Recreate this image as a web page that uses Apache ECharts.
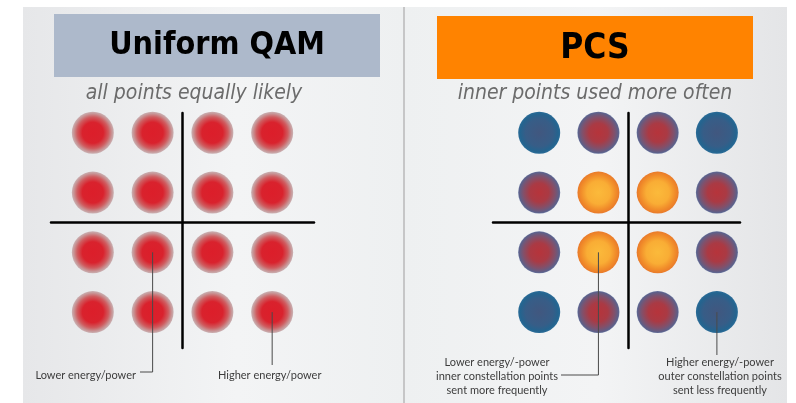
<!DOCTYPE html>
<html>
<head>
<meta charset="utf-8">
<script src="https://cdn.jsdelivr.net/npm/echarts@6/dist/echarts.min.js"></script>
<style>
  html, body { margin: 0; background: #fff; }
  #chart { width: 796px; height: 403px; }
</style>
</head>
<body>
<div id="chart"></div>
<script>
// 16-QAM amplitude levels on I and Q
const levels = [-1.5, -0.5, 0.5, 1.5];
const titles = ['Uniform QAM', 'PCS'];
const subtitles = ['all points equally likely', 'inner points used more often'];

// uniform QAM: every point the same
const uniformPoints = levels.flatMap(q => levels.map(i => [i, q]));

// PCS: points grouped by how often they are sent
const pcsCorner = [[-1.5, 1.5], [1.5, 1.5], [-1.5, -1.5], [1.5, -1.5]];
const pcsEdge = [[-0.5, 1.5], [0.5, 1.5], [-1.5, 0.5], [1.5, 0.5],
                 [-1.5, -0.5], [1.5, -0.5], [-0.5, -1.5], [0.5, -1.5]];
const pcsInner = [[-0.5, 0.5], [0.5, 0.5], [-0.5, -0.5], [0.5, -0.5]];

const uniformNotes = ['Lower energy/power', 'Higher energy/power'];
const pcsNotes = [
  'Lower energy/-power\ninner constellation points\nsent more frequently',
  'Higher energy/-power\nouter constellation points\nsent less frequently'
];

const radial = stops => ({
  type: 'radial', x: 0.5, y: 0.5, r: 0.5,
  colorStops: stops.map(s => ({ offset: s[0], color: s[1] }))
});

const redDot = radial([[0, '#dc1e2a'], [0.5, '#d9222d'], [0.75, '#cf5c5f'], [0.92, '#c79a9b'], [1, '#cbb0b2']]);
const blueDot = radial([[0, '#41577f'], [0.65, '#375d87'], [0.9, '#24648f'], [1, '#2a6c98']]);
const mixDot = radial([[0, '#b6343b'], [0.45, '#aa3a44'], [0.75, '#82506a'], [0.95, '#5d6089'], [1, '#6a76a0']]);
const orangeDot = radial([[0, '#fbba3b'], [0.55, '#f9ad35'], [0.82, '#f18d2a'], [1, '#e97a2a']]);

const axisStyle = { color: '#000', width: 2.5 };
const makeAxis = (idx, min, max) => ({
  type: 'value', gridIndex: idx, min: min, max: max,
  axisLine: { onZero: true, lineStyle: axisStyle },
  axisTick: { show: false }, axisLabel: { show: false }, splitLine: { show: false }
});

const dots = (name, idx, data, color) => ({
  name: name, type: 'scatter', xAxisIndex: idx, yAxisIndex: idx,
  data: data, symbolSize: 42, silent: true,
  itemStyle: { color: color, opacity: 1 },
  emphasis: { disabled: true }
});

const chart = echarts.init(document.getElementById('chart'));

chart.setOption({
  animation: false,
  backgroundColor: '#fff',
  grid: [
    { left: 51, top: 113, width: 263, height: 235 },
    { left: 493, top: 113, width: 247, height: 235 }
  ],
  xAxis: [makeAxis(0, -2.2, 2.2), makeAxis(1, -2.28, 1.89)],
  yAxis: [makeAxis(0, -2.1, 1.83), makeAxis(1, -2.1, 1.83)],
  series: [
    dots('uniform', 0, uniformPoints, redDot),
    dots('corner', 1, pcsCorner, blueDot),
    dots('edge', 1, pcsEdge, mixDot),
    dots('inner', 1, pcsInner, orangeDot)
  ]
});

// leader lines start at the constellation points
const px = (idx, p) => chart.convertToPixel({ gridIndex: idx }, p);
const uLow = px(0, [-0.5, -0.5]);
const uHigh = px(0, [1.5, -1.5]);
const pLow = px(1, [-0.5, -0.5]);
const pHigh = px(1, [1.5, -1.5]);

const noteFont = '11px Lato, "Open Sans", sans-serif';
const subFont = 'italic 21px "DejaVu Sans Condensed", "DejaVu Sans", sans-serif';
const lineStyle = { stroke: '#4a4a4a', lineWidth: 1, fill: null };

chart.setOption({
  graphic: [
    {
      type: 'rect', z: -100, silent: true,
      shape: { x: 23, y: 7, width: 764, height: 396 },
      style: {
        fill: {
          type: 'linear', x: 0, y: 0, x2: 1, y2: 0,
          colorStops: [
            { offset: 0, color: '#e6e7e9' }, { offset: 0.28, color: '#f3f4f5' },
            { offset: 0.5, color: '#eef0f1' }, { offset: 0.75, color: '#f3f4f5' },
            { offset: 1, color: '#e4e5e7' }
          ]
        }
      }
    },
    {
      type: 'line', z: -50, silent: true,
      shape: { x1: 404, y1: 7, x2: 404, y2: 403 },
      style: { stroke: '#b9b9b9', lineWidth: 1.5 }
    },
    { type: 'rect', silent: true, shape: { x: 54, y: 14, width: 326, height: 63 }, style: { fill: '#adb9cb' } },
    { type: 'rect', silent: true, shape: { x: 437, y: 16, width: 316, height: 63 }, style: { fill: '#ff8300' } },
    {
      type: 'text', silent: true, x: 217, y: 46,
      style: { text: titles[0], font: 'bold 32px "DejaVu Sans Condensed", "DejaVu Sans", sans-serif',
               fill: '#000', align: 'center', verticalAlign: 'middle' }
    },
    {
      type: 'text', silent: true, x: 595, y: 49,
      style: { text: titles[1], font: 'bold 35px "DejaVu Sans Condensed", "DejaVu Sans", sans-serif',
               fill: '#000', align: 'center', verticalAlign: 'middle' }
    },
    {
      type: 'text', silent: true, x: 194, y: 94,
      style: { text: subtitles[0], font: subFont, fill: '#6b6b6b', align: 'center', verticalAlign: 'middle' }
    },
    {
      type: 'text', silent: true, x: 595, y: 94,
      style: { text: subtitles[1], font: subFont, fill: '#6b6b6b', align: 'center', verticalAlign: 'middle' }
    },
    // uniform QAM notes
    { type: 'polyline', z: 100, silent: true, shape: { points: [uLow, [uLow[0], 372], [140, 372]] }, style: lineStyle },
    { type: 'polyline', z: 100, silent: true, shape: { points: [uHigh, [uHigh[0], 365]] }, style: lineStyle },
    {
      type: 'text', silent: true, x: 136, y: 375,
      style: { text: uniformNotes[0], font: noteFont, fill: '#3c3c3c', align: 'right', verticalAlign: 'middle' }
    },
    {
      type: 'text', silent: true, x: 218, y: 375,
      style: { text: uniformNotes[1], font: noteFont, fill: '#3c3c3c', align: 'left', verticalAlign: 'middle' }
    },
    // PCS notes
    { type: 'polyline', z: 100, silent: true, shape: { points: [pLow, [pLow[0], 375], [561, 375]] }, style: lineStyle },
    { type: 'polyline', z: 100, silent: true, shape: { points: [pHigh, [pHigh[0], 355]] }, style: lineStyle },
    {
      type: 'text', silent: true, x: 497, y: 376,
      style: { text: pcsNotes[0], font: noteFont, lineHeight: 14, fill: '#3c3c3c', align: 'center', verticalAlign: 'middle' }
    },
    {
      type: 'text', silent: true, x: 720, y: 376,
      style: { text: pcsNotes[1], font: noteFont, lineHeight: 14, fill: '#3c3c3c', align: 'center', verticalAlign: 'middle' }
    }
  ]
});
</script>
</body>
</html>
